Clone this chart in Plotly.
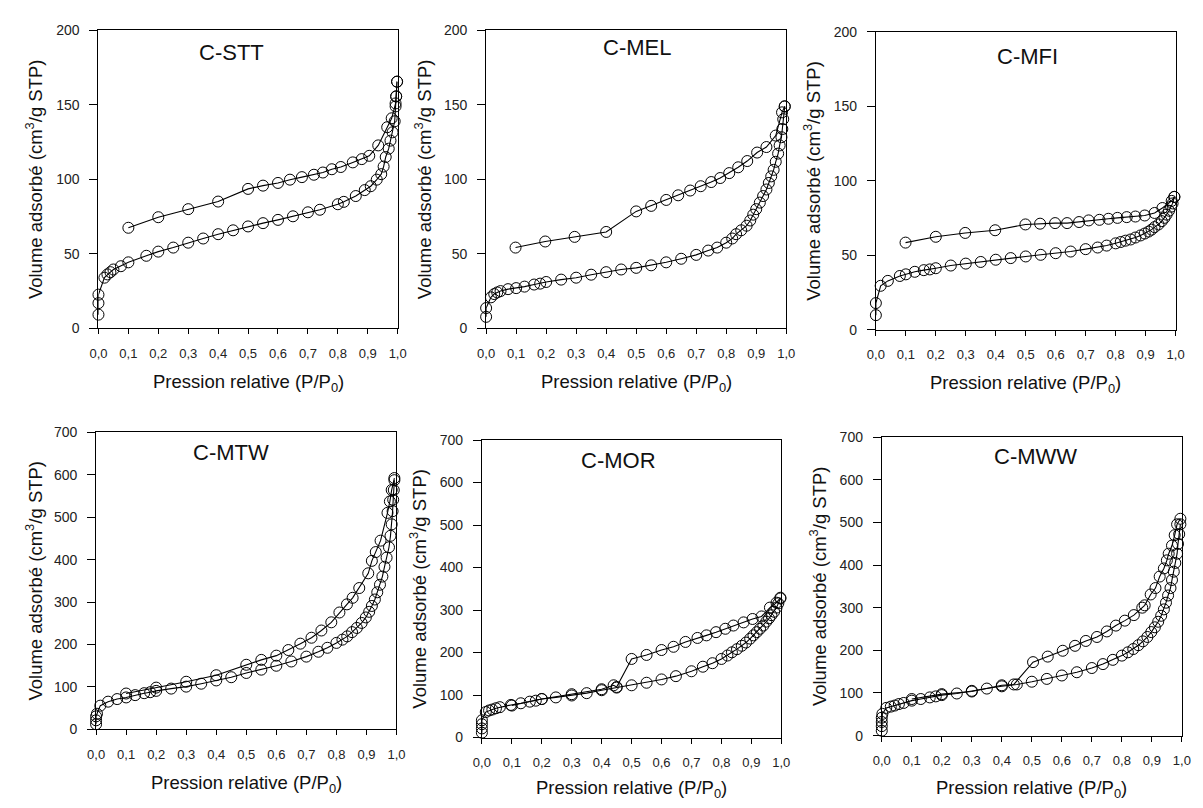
import plotly.graph_objects as go

# ---------------- data (relative pressure P/P0, volume adsorbed cm3/g STP) ----------------
stt_ads_p = [0.0, 0.0, 0.0, 0.02, 0.03, 0.04, 0.05, 0.075, 0.10, 0.16, 0.20, 0.25, 0.30, 0.35, 0.40, 0.45,
             0.50, 0.55, 0.60, 0.65, 0.70, 0.74, 0.80, 0.82, 0.86, 0.89, 0.91, 0.93, 0.945, 0.953, 0.96,
             0.97, 0.976, 0.983, 0.99, 0.993, 0.995, 0.998]
stt_ads_v = [9.2, 16.9, 22.6, 34.0, 36.2, 37.7, 39.5, 41.7, 44.3, 48.7, 51.5, 54.2, 57.5, 60.3, 63.2, 65.8,
             68.4, 70.6, 72.8, 75.2, 77.9, 79.6, 83.3, 84.9, 88.8, 92.8, 95.4, 99.8, 103.5, 108.6, 115.0,
             120.6, 126.0, 131.6, 139.0, 149.0, 155.7, 165.6]
stt_des_p = [0.998, 0.995, 0.993, 0.98, 0.965, 0.935, 0.905, 0.88, 0.85, 0.81, 0.78, 0.75, 0.72, 0.68,
             0.64, 0.60, 0.55, 0.50, 0.40, 0.30, 0.20, 0.10]
stt_des_v = [165.6, 155.7, 151.0, 141.0, 135.0, 122.8, 115.8, 113.6, 111.4, 108.3, 106.8, 104.6, 103.1,
             101.5, 99.8, 97.6, 95.8, 93.6, 85.1, 80.0, 74.6, 67.5]

mel_ads_p = [0.0, 0.0, 0.016, 0.027, 0.037, 0.048, 0.073, 0.10, 0.128, 0.16, 0.18, 0.20, 0.25, 0.30, 0.35,
             0.40, 0.45, 0.50, 0.55, 0.60, 0.65, 0.70, 0.74, 0.77, 0.80, 0.82, 0.833, 0.85, 0.868, 0.88,
             0.89, 0.90, 0.912, 0.923, 0.934, 0.942, 0.95, 0.958, 0.965, 0.973, 0.978, 0.984, 0.987, 0.99,
             0.995]
mel_ads_v = [7.7, 13.6, 20.8, 23.0, 24.1, 25.0, 26.3, 27.0, 28.0, 29.4, 30.0, 31.1, 32.7, 34.0, 36.0,
             37.7, 39.5, 40.6, 42.3, 44.3, 46.7, 49.3, 52.2, 54.2, 57.5, 60.3, 63.2, 65.8, 68.9, 72.4,
             76.3, 80.0, 84.4, 88.8, 93.2, 97.6, 102.0, 106.4, 111.8, 117.3, 122.8, 128.3, 133.8, 140.4,
             149.0]
mel_des_p = [0.995, 0.986, 0.965, 0.934, 0.903, 0.87, 0.84, 0.81, 0.78, 0.75, 0.715, 0.68, 0.64, 0.60,
             0.55, 0.50, 0.40, 0.295, 0.197, 0.098]
mel_des_v = [149.0, 145.0, 129.4, 121.7, 118.0, 112.3, 108.1, 104.2, 100.9, 98.2, 95.4, 92.5, 89.3, 86.2,
             82.2, 78.5, 64.7, 61.4, 58.3, 54.2]

mfi_ads_p = [0.0, 0.0, 0.016, 0.04, 0.08, 0.10, 0.13, 0.16, 0.18, 0.20, 0.25, 0.30, 0.35, 0.40, 0.45,
             0.50, 0.55, 0.60, 0.65, 0.70, 0.74, 0.77, 0.80, 0.817, 0.833, 0.85, 0.866, 0.883, 0.897, 0.91,
             0.92, 0.93, 0.943, 0.954, 0.963, 0.97, 0.978, 0.985, 0.99, 0.996]
mfi_ads_v = [9.9, 18.0, 29.6, 32.9, 36.2, 37.3, 39.0, 40.1, 40.6, 41.4, 43.2, 44.5, 45.6, 47.1, 48.2,
             49.3, 50.4, 51.5, 52.6, 54.2, 55.3, 56.6, 58.1, 59.0, 59.9, 60.7, 62.0, 63.4, 64.7, 66.0,
             67.3, 69.0, 70.8, 73.0, 75.2, 77.4, 80.0, 82.7, 84.9, 89.3]
mfi_des_p = [0.996, 0.987, 0.956, 0.93, 0.897, 0.866, 0.837, 0.806, 0.776, 0.746, 0.71, 0.678, 0.638,
             0.598, 0.548, 0.499, 0.398, 0.298, 0.20, 0.099]
mfi_des_v = [89.3, 86.6, 81.8, 78.5, 76.8, 76.1, 75.7, 75.2, 74.6, 73.9, 73.5, 72.4, 71.7, 71.7, 71.3,
             70.8, 66.9, 65.1, 62.5, 58.6]

mtw_ads_p = [0.0, 0.0, 0.0, 0.003, 0.014, 0.04, 0.07, 0.10, 0.13, 0.16, 0.18, 0.20, 0.25, 0.30, 0.35,
             0.40, 0.45, 0.50, 0.55, 0.60, 0.65, 0.70, 0.74, 0.77, 0.80, 0.82, 0.836, 0.852, 0.868, 0.884,
             0.898, 0.909, 0.918, 0.928, 0.936, 0.945, 0.953, 0.96, 0.967, 0.975, 0.98, 0.984, 0.987,
             0.989, 0.991, 0.993]
mtw_ads_v = [12.3, 21.5, 30.8, 37.0, 56.0, 65.4, 71.5, 75.4, 80.8, 85.4, 87.7, 90.8, 96.2, 100.8, 107.7,
             115.4, 123.0, 133.0, 140.8, 150.0, 160.0, 171.5, 183.0, 192.3, 203.8, 211.5, 219.2, 229.2,
             239.0, 250.8, 263.8, 277.0, 290.8, 306.0, 323.0, 340.8, 360.0, 383.0, 404.6, 429.0, 456.0,
             483.0, 514.0, 541.0, 563.8, 587.0]
mtw_des_p = [0.993, 0.984, 0.978, 0.97, 0.947, 0.931, 0.918, 0.906, 0.876, 0.854, 0.835, 0.81, 0.783,
             0.75, 0.717, 0.68, 0.64, 0.60, 0.55, 0.50, 0.40, 0.30, 0.20, 0.10]
mtw_des_v = [592.0, 564.0, 537.0, 510.0, 444.6, 417.7, 397.0, 367.7, 333.0, 310.0, 294.6, 275.4, 252.3,
             233.0, 216.0, 202.0, 187.0, 173.8, 163.8, 152.3, 127.7, 112.3, 98.5, 84.6]

mor_ads_p = [0.0, 0.0, 0.0, 0.0, 0.013, 0.024, 0.035, 0.047, 0.06, 0.097, 0.13, 0.16, 0.18, 0.20, 0.247,
             0.30, 0.35, 0.40, 0.45, 0.50, 0.55, 0.60, 0.648, 0.70, 0.738, 0.77, 0.80, 0.82, 0.835, 0.852,
             0.868, 0.882, 0.896, 0.907, 0.918, 0.929, 0.94, 0.95, 0.959, 0.967, 0.976, 0.984, 0.99, 0.997]
mor_ads_v = [11.5, 21.5, 31.5, 40.7, 60.0, 63.8, 66.0, 69.0, 71.5, 76.8, 80.7, 84.5, 86.8, 90.7, 94.5,
             99.0, 104.5, 111.4, 117.6, 123.0, 129.0, 136.8, 144.5, 156.0, 166.7, 175.0, 185.0, 193.0,
             200.6, 208.0, 216.0, 223.6, 232.8, 240.5, 248.0, 256.0, 263.6, 272.8, 280.5, 288.0, 296.0,
             305.8, 315.8, 327.3]
mor_des_p = [0.997, 0.984, 0.962, 0.934, 0.904, 0.874, 0.84, 0.813, 0.782, 0.75, 0.72, 0.68, 0.64, 0.60,
             0.55, 0.50, 0.45, 0.44, 0.40, 0.30, 0.20, 0.10]
mor_des_v = [329.0, 317.4, 305.8, 285.0, 279.0, 271.0, 263.6, 256.0, 248.0, 240.5, 234.4, 225.0, 213.6,
             206.0, 194.4, 185.0, 119.0, 123.0, 113.7, 102.0, 90.7, 75.3]

mww_ads_p = [0.0, 0.0, 0.0, 0.0, 0.002, 0.015, 0.03, 0.043, 0.057, 0.073, 0.10, 0.13, 0.16, 0.18, 0.20,
             0.25, 0.30, 0.35, 0.40, 0.45, 0.50, 0.55, 0.60, 0.65, 0.70, 0.737, 0.77, 0.80, 0.82, 0.838,
             0.855, 0.87, 0.885, 0.898, 0.91, 0.921, 0.931, 0.94, 0.947, 0.954, 0.962, 0.967, 0.973,
             0.978, 0.984, 0.987, 0.991, 0.995]
mww_ads_v = [11.5, 22.2, 32.0, 42.0, 51.0, 65.0, 68.0, 70.5, 74.0, 76.6, 82.0, 85.8, 89.6, 92.0, 95.0,
             98.8, 105.0, 110.3, 115.6, 120.0, 126.4, 133.0, 141.0, 148.6, 158.5, 167.7, 177.7, 187.6,
             195.3, 203.0, 212.0, 221.0, 231.3, 242.8, 254.0, 267.0, 281.0, 296.0, 311.7, 328.6, 346.0,
             365.0, 384.5, 405.0, 426.6, 449.6, 472.5, 495.5]
mww_des_p = [0.995, 0.984, 0.976, 0.967, 0.956, 0.95, 0.94, 0.926, 0.912, 0.896, 0.876, 0.868, 0.84,
             0.81, 0.78, 0.75, 0.717, 0.68, 0.644, 0.603, 0.553, 0.504, 0.44, 0.40, 0.30, 0.20, 0.10]
mww_des_v = [508.5, 495.5, 470.0, 445.7, 426.6, 411.0, 392.0, 373.0, 346.0, 331.0, 305.6, 300.0, 282.6,
             269.6, 258.0, 244.3, 231.3, 222.0, 210.6, 199.0, 185.3, 172.3, 120.0, 118.0, 103.4, 97.3,
             85.8]

panel_names = ["C-STT", "C-MEL", "C-MFI", "C-MTW", "C-MOR", "C-MWW"]
y_max = [200, 200, 200, 700, 700, 700]
y_step = [50, 50, 50, 100, 100, 100]
x_ticks = [0.0, 0.1, 0.2, 0.3, 0.4, 0.5, 0.6, 0.7, 0.8, 0.9, 1.0]

series = [
    (stt_ads_p, stt_ads_v, stt_des_p, stt_des_v),
    (mel_ads_p, mel_ads_v, mel_des_p, mel_des_v),
    (mfi_ads_p, mfi_ads_v, mfi_des_p, mfi_des_v),
    (mtw_ads_p, mtw_ads_v, mtw_des_p, mtw_des_v),
    (mor_ads_p, mor_ads_v, mor_des_p, mor_des_v),
    (mww_ads_p, mww_ads_v, mww_des_p, mww_des_v),
]

# ---------------- layout geometry (pixels in the 1203x808 window) ----------------
PAGE_W, PAGE_H = 1203, 808
OFF = 8                                   # the page's default body margin
W, H = PAGE_W - OFF, PAGE_H - OFF         # figure reaches the window's right/bottom edge


def px(x):
    return (x - OFF) / W


def py(y):
    return 1 - (y - OFF) / H


# (left, right, top, bottom) of each plot area, in window pixels
boxes = [
    (90.7, 394.5, 22.7, 326.7),
    (484.3, 789.0, 22.7, 326.7),
    (880.0, 1184.3, 24.3, 328.3),
    (88.3, 393.3, 432.7, 736.0),
    (480.0, 784.0, 440.7, 744.3),
    (886.0, 1190.7, 437.7, 742.3),
]
title_pos = [(226, 45), (637, 40), (1034, 49), (225, 453), (619, 462), (1042, 457)]
ytitle_x = [26, 421, 815, 25, 415, 822]
xtitle_y = [382, 382, 384, 792, 797, 797]

FONT = "Liberation Sans, Arial, Helvetica, sans-serif"
BLACK = "#000000"

fig = go.Figure()
layout = dict(
    width=W, height=H,
    margin=dict(l=0, r=0, t=0, b=0),
    paper_bgcolor="white", plot_bgcolor="white",
    showlegend=False,
    separators=",.",
    font=dict(family=FONT, color=BLACK, size=14),
)
annotations = []

for i, (name, (ap, av, dp, dv), box) in enumerate(zip(panel_names, series, boxes)):
    k = i + 1
    xa = "x" if k == 1 else f"x{k}"
    ya = "y" if k == 1 else f"y{k}"
    for sx, sy in ((ap, av), (dp, dv)):
        fig.add_trace(go.Scatter(
            x=sx, y=sy, xaxis=xa, yaxis=ya,
            mode="lines+markers",
            line=dict(color=BLACK, width=1.1),
            marker=dict(symbol="circle-open", size=11, color=BLACK, line=dict(width=1, color=BLACK)),
            cliponaxis=False,
            hoverinfo="x+y",
        ))
    l, r, t, b = box
    layout[f"xaxis{'' if k == 1 else k}"] = dict(
        domain=[px(l), px(r)], anchor=ya, range=[0, 1.0],
        tickvals=x_ticks, tickformat=".1f",
        ticks="outside", ticklen=5, tickwidth=1, tickcolor=BLACK,
        showline=True, mirror=True, linecolor=BLACK, linewidth=1,
        showgrid=False, zeroline=False,
        tickfont=dict(family=FONT, size=13, color="#222222"),
        ticklabelstandoff=8,
    )
    layout[f"yaxis{'' if k == 1 else k}"] = dict(
        domain=[py(b), py(t)], anchor=xa, range=[0, y_max[i]],
        tick0=0, dtick=y_step[i],
        ticks="outside", ticklen=8, tickwidth=1, tickcolor=BLACK,
        showline=True, mirror=True, linecolor=BLACK, linewidth=1,
        showgrid=False, zeroline=False,
        tickfont=dict(family=FONT, size=14, color="#222222"),
        ticklabelstandoff=7,
    )
    tx, ty = title_pos[i]
    annotations.append(dict(
        text=name, x=px(tx), y=py(ty), xref="paper", yref="paper",
        xanchor="center", yanchor="middle", showarrow=False,
        font=dict(family=FONT, size=22, color="#111111"),
    ))
    annotations.append(dict(
        text="Volume adsorbé (cm<sup>3</sup>/g STP)",
        x=px(ytitle_x[i]), y=py((t + b) / 2), xref="paper", yref="paper",
        xanchor="center", yanchor="middle", textangle=-90, showarrow=False,
        font=dict(family=FONT, size=18.5, color="#111111"),
    ))
    annotations.append(dict(
        text="Pression relative (P/P<sub>0</sub>)",
        x=px((l + r) / 2), y=py(xtitle_y[i]), xref="paper", yref="paper",
        xanchor="center", yanchor="middle", showarrow=False,
        font=dict(family=FONT, size=18.5, color="#111111"),
    ))

layout["annotations"] = annotations
fig.update_layout(**layout)
fig.write_html("out.html")
